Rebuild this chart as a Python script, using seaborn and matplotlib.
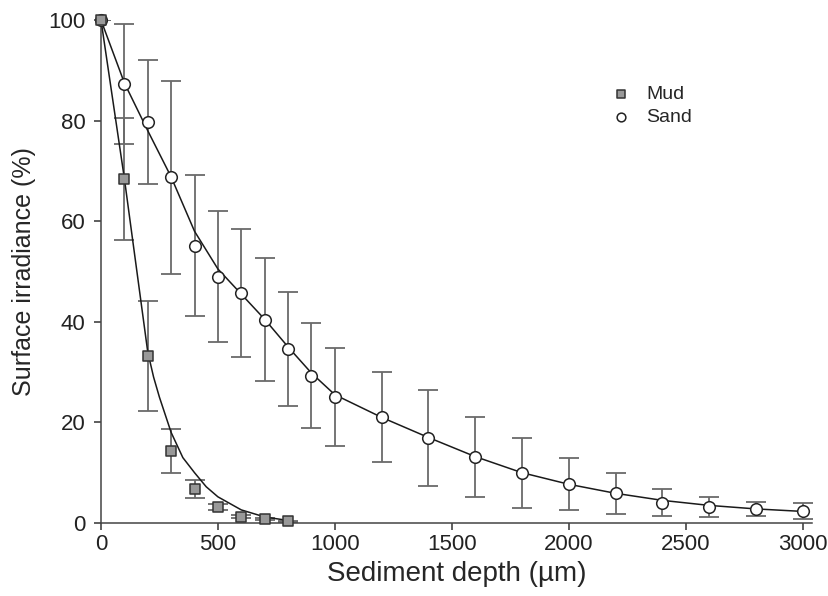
import matplotlib
matplotlib.use('Agg')
import matplotlib.pyplot as plt
import seaborn as sns
import pandas as pd

# Datos
prof_mud = [0, 100, 200, 300, 400, 500, 600, 700, 800]
irr_mud = [100, 68.4, 33.2, 14.3, 6.7, 3.1, 1.2, 0.7, 0.3]
err_mud = [0, 12.2, 11.0, 4.4, 1.8, 0.6, 0.3, 0.2, 0.1]

prof_sand = [0, 100, 200, 300, 400, 500, 600, 700, 800, 900, 1000,
             1200, 1400, 1600, 1800, 2000, 2200, 2400, 2600, 2800, 3000]
irr_sand = [100, 87.3, 79.7, 68.7, 55.1, 49.0, 45.7, 40.4, 34.6, 29.3, 25.0,
            21.1, 16.9, 13.1, 9.9, 7.7, 5.9, 4.0, 3.1, 2.7, 2.4]
err_sand = [0, 12.0, 12.4, 19.2, 14.0, 13.1, 12.7, 12.2, 11.3, 10.5, 9.7,
            8.9, 9.6, 8.0, 7.0, 5.2, 4.1, 2.7, 2.0, 1.4, 1.6]

# Curvas de ajuste
ajuste_mud_x = [0, 100, 200, 225, 250, 300, 350, 400, 450, 500, 600, 700, 800]
ajuste_mud_y = [100, 68.5, 34.0, 29.0, 25.0, 18.0, 13.0, 10.0, 7.2, 5.2, 2.6, 1.2, 0.5]
ajuste_sand_x = [0, 100, 200, 300, 400, 500, 600, 700, 800, 900, 1000,
                 1200, 1400, 1600, 1800, 2000, 2200, 2400, 2600, 2800, 3000]
ajuste_sand_y = [100, 87.5, 78.0, 68.8, 58.0, 50.5, 45.5, 40.5, 35.0, 29.8, 25.5,
                 21.0, 17.0, 13.2, 10.0, 7.7, 5.9, 4.5, 3.5, 2.8, 2.3]

sns.set_theme(style="ticks")
plt.rcParams['font.family'] = ['Liberation Sans', 'DejaVu Sans']

fig = plt.figure(figsize=(8.29, 5.96), dpi=100)
ax = fig.add_axes([0.1218, 0.1225, 0.8577, 0.8439])

# Barras de error
ax.errorbar(prof_sand, irr_sand, yerr=err_sand, fmt='none', ecolor='#6a6a6a',
            elinewidth=1.3, capsize=7, capthick=1.3, zorder=2)
ax.errorbar(prof_mud, irr_mud, yerr=err_mud, fmt='none', ecolor='#6a6a6a',
            elinewidth=1.3, capsize=7, capthick=1.3, zorder=2)

# Curvas de ajuste
sns.lineplot(x=ajuste_sand_x, y=ajuste_sand_y, color='#1a1a1a', linewidth=1.1,
             ax=ax, zorder=3)
sns.lineplot(x=ajuste_mud_x, y=ajuste_mud_y, color='#1a1a1a', linewidth=1.1,
             ax=ax, zorder=3)

# Puntos
sns.scatterplot(x=prof_sand, y=irr_sand, marker='o', s=70, color='white',
                edgecolor='#222222', linewidth=1.1, ax=ax, zorder=4,
                label='Sand', clip_on=False)
sns.scatterplot(x=prof_mud, y=irr_mud, marker='s', s=60, color='#999999',
                edgecolor='#333333', linewidth=1.1, ax=ax, zorder=5,
                label='Mud', clip_on=False)

ax.set_xlim(0, 3040)
ax.set_ylim(0, 100)
ax.set_xticks([0, 500, 1000, 1500, 2000, 2500, 3000])
ax.set_yticks([0, 20, 40, 60, 80, 100])
ax.set_xlabel('Sediment depth (\u00b5m)', fontsize=20, labelpad=4)
ax.set_ylabel('Surface irradiance (%)', fontsize=18, labelpad=9)
ax.tick_params(axis='both', labelsize=16, length=5, width=1.1, direction='out',
               colors='#333333', labelcolor='#222222')
ax.tick_params(axis='y', pad=6)
ax.tick_params(axis='x', pad=3)
sns.despine(ax=ax)
for s in ['left', 'bottom']:
    ax.spines[s].set_linewidth(1.1)
    ax.spines[s].set_color('#444444')

handles, labels = ax.get_legend_handles_labels()
orden = [labels.index('Mud'), labels.index('Sand')]
ax.legend([handles[i] for i in orden], [labels[i] for i in orden],
          loc='upper left', bbox_to_anchor=(0.679, 0.904), frameon=False,
          fontsize=14, handletextpad=0.3, labelspacing=0.25, markerscale=0.75)

plt.savefig('out.png', dpi=100)
plt.close()
